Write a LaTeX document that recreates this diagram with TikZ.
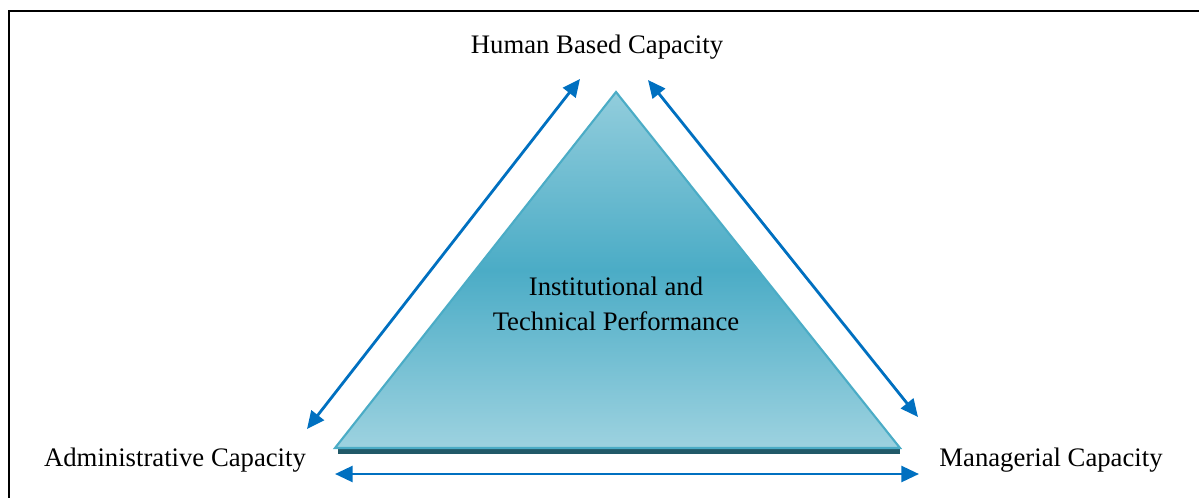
\documentclass[tikz,border=0pt]{standalone}
\usepackage{fontspec}
\setmainfont{Liberation Serif}
\usetikzlibrary{arrows.meta, positioning, calc}

\definecolor{arrowblue}{HTML}{0070C0}
\definecolor{tealmid}{HTML}{4BACC6}
\definecolor{teallight}{HTML}{92CDDC}
\definecolor{tealdark}{HTML}{215968}

\begin{document}
\begin{tikzpicture}[x=0.02cm, y=-0.02cm]
            \tikzstyle{label} = [font=\fontsize{15.2}{20}\selectfont, text=black, inner sep=0pt]
            \tikzstyle{arrow} = [arrowblue, line width=1.6pt, {Triangle[width=9pt,length=10pt]}-{Triangle[width=9pt,length=10pt]}]

            \useasboundingbox (0,0) rectangle (1199,497);
            \draw [line width=1.2pt] (9,11) rectangle (1210,510);

            % triangle corners
            \coordinate (top) at (616,92);
            \coordinate (left) at (335,448);
            \coordinate (right) at (900,448);

            \draw [tealdark, line width=3pt] ($(left)+(3,3)$) -- ($(right)+(0,3)$);
            \shade [top color=teallight, bottom color=teallight!90!white, middle color=tealmid, draw=tealmid, line width=1.2pt] (top) -- (right) -- (left) -- cycle;

            \node (human) [label] at (597,47) {Human Based Capacity};
            \node (admin) [label] at (175,460) {Administrative Capacity};
            \node (manag) [label] at (1051,460) {Managerial Capacity};
            \node (perf) [label, align=center] at (616,304) {Institutional and\\Technical Performance};

            % arrow end points
            \coordinate (la) at (580,79);
            \coordinate (lb) at (307,429);
            \coordinate (ra) at (648,80);
            \coordinate (rb) at (918,417);
            \coordinate (ba) at (335,474);
            \coordinate (bb) at (919,474);

            \draw [arrow] (la) -- (lb);
            \draw [arrow] (ra) -- (rb);
            \draw [arrow] (ba) -- (bb);
        \end{tikzpicture}
\end{document}
